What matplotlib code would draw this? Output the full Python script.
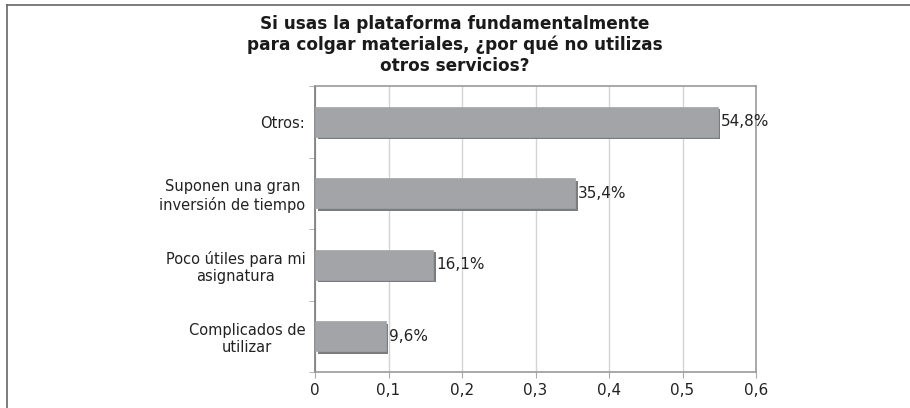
import numpy as np
import matplotlib
matplotlib.use('Agg')
import matplotlib.pyplot as plt
import matplotlib.patheffects as pe
from matplotlib.lines import Line2D

categories = ['Complicados de\nutilizar', 'Poco útiles para mi\nasignatura',
              'Suponen una gran\ninversión de tiempo', 'Otros:']
values = [0.096, 0.161, 0.354, 0.548]
value_labels = ['9,6%', '16,1%', '35,4%', '54,8%']
x_ticks = [0, 0.1, 0.2, 0.3, 0.4, 0.5, 0.6]
x_tick_labels = ['0', '0,1', '0,2', '0,3', '0,4', '0,5', '0,6']
title = ('Si usas la plataforma fundamentalmente\n'
         'para colgar materiales, ¿por qué no utilizas\n'
         'otros servicios?')

plt.rcParams['font.family'] = ['DejaVu Sans']

fig = plt.figure(figsize=(9.1, 4.08), dpi=100)
ax = fig.add_axes([315/910, 1 - 372/408, (756 - 315)/910, (372 - 86)/408])

y = np.arange(len(categories))
bars = ax.barh(y, values, height=0.42, color='#a2a4a7', edgecolor='#a2a4a7',
               linewidth=0.5, zorder=3)
for b in bars:
    b.set_path_effects([pe.SimplePatchShadow(offset=(1.8, -1.8), shadow_rgbFace='#7b7c7e', alpha=1),
                        pe.Normal()])

for yi, v, lab in zip(y, values, value_labels):
    ax.text(v + 0.004, yi, lab, va='center', ha='left', fontsize=11, color='#222222', zorder=4)

ax.set_xlim(0, 0.6)
ax.set_ylim(-0.5, len(categories) - 0.5)
ax.set_xticks(x_ticks)
ax.set_xticklabels(x_tick_labels, fontsize=11, color='#222222')
ax.set_yticks(y)
ax.set_yticklabels(categories, fontsize=10.5, color='#222222', multialignment='center')
ax.tick_params(axis='y', length=0, pad=7)
ax.set_yticks(np.arange(-0.5, len(categories)), minor=True)
ax.tick_params(axis='y', which='minor', length=4, color='#aaaaaa', direction='out')
ax.tick_params(axis='x', length=4, color='#aaaaaa', direction='out', pad=4)
ax.grid(axis='x', color='#d4d4d8', linewidth=1, zorder=0)
for s in ax.spines.values():
    s.set_color('#9a9a9a')
    s.set_linewidth(1.2)
ax.spines['left'].set_color('#777777')

fig.text(0.500, 1 - 45/408, title, ha='center', va='center', fontsize=12.2,
         fontweight='bold', color='#1a1a1a', linespacing=1.17)

# outer frame (top and left)
fig.add_artist(Line2D([6.5/910, 1], [1 - 4.5/408, 1 - 4.5/408], transform=fig.transFigure,
                      color='#666666', linewidth=1.2))
fig.add_artist(Line2D([6.5/910, 6.5/910], [0, 1 - 4.5/408], transform=fig.transFigure,
                      color='#666666', linewidth=1.2))

fig.savefig('out.png', dpi=100)
